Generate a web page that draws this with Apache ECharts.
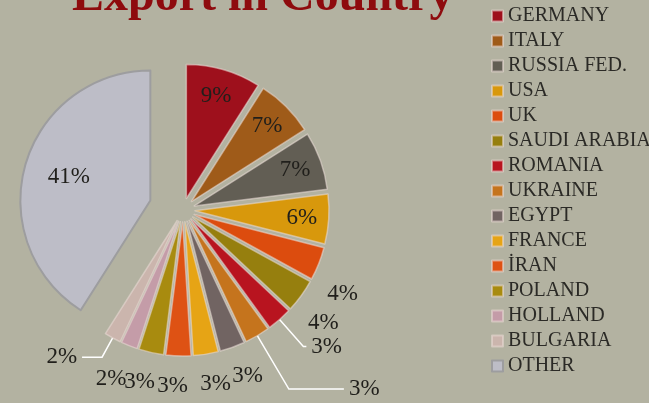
<!DOCTYPE html>
<html>
<head>
<meta charset="utf-8">
<script src="https://cdn.jsdelivr.net/npm/echarts@6/dist/echarts.min.js"></script>
<style>
  html, body { margin: 0; padding: 0; background: #b3b2a1; }
  #chart { width: 649px; height: 403px; }
</style>
</head>
<body>
<div id="chart"></div>
<script>
// country shares (%)
const countries = ['GERMANY', 'ITALY', 'RUSSIA FED.', 'USA', 'UK', 'SAUDI ARABIA', 'ROMANIA',
  'UKRAINE', 'EGYPT', 'FRANCE', 'İRAN', 'POLAND', 'HOLLAND', 'BULGARIA'];
const shares = [9, 7, 7, 6, 4, 4, 3, 3, 3, 3, 3, 3, 2, 2];
const otherName = 'OTHER';
const otherShare = 41;

const colors = ['#9e101c', '#9f5b19', '#625e54', '#d8980c', '#dc4c0e', '#967f0e', '#b8141f',
  '#c5741d', '#716462', '#e6a415', '#de5214', '#a88b0f', '#c49ca8', '#cbb5ad'];
const otherColor = '#bdbdc7';

// which labels sit inside the slices, label lines and small nudges for the outer ones
const insideLabels = ['GERMANY', 'ITALY', 'RUSSIA FED.', 'USA', 'OTHER'];
const guideLines = {
  'ROMANIA': [36, 3],
  'UKRAINE': [62, 55],
  'BULGARIA': [22, 20]
};
const labelNudges = {
  'UK': [-9, 19],
  'SAUDI ARABIA': [-7, 10]
};

const CENTER = [183, 210];
const hidden = { color: 'transparent', borderWidth: 0 };
const labelFont = { fontFamily: 'Liberation Serif', fontSize: 23, color: '#201f1b' };

let myChart = echarts.init(document.getElementById('chart'));

// slices of the countries
let mainData = countries.map(function (name, i) {
  let inside = insideLabels.indexOf(name) >= 0;
  let line = guideLines[name];
  return {
    name: name,
    value: shares[i],
    selected: true,
    itemStyle: { color: colors[i] },
    label: { show: !inside },
    labelLine: line
      ? { show: true, length: line[0], length2: line[1] }
      : { show: false, length: name === 'HOLLAND' ? 36 : 30, length2: 0 }
  };
});
mainData.push({
  name: 'other-gap',
  value: otherShare,
  itemStyle: hidden,
  label: { show: false },
  labelLine: { show: false },
  emphasis: { disabled: true }
});

// the big "other" slice, pulled out further
let restTotal = shares.reduce(function (a, b) { return a + b; }, 0);
let otherData = [
  { name: 'rest', value: restTotal, itemStyle: hidden, emphasis: { disabled: true } },
  {
    name: otherName,
    value: otherShare,
    selected: true,
    itemStyle: { color: otherColor, borderColor: '#9d9d9f', borderWidth: 2 }
  }
];

// transparent ring that carries the inner labels
let labelData = countries.concat([otherName]).map(function (name, i) {
  return {
    name: name,
    value: i < shares.length ? shares[i] : otherShare,
    label: { show: insideLabels.indexOf(name) >= 0 }
  };
});

myChart.setOption({
  backgroundColor: '#b3b2a1',
  animation: false,
  graphic: [
    {
      type: 'text',
      left: 72,
      top: -26,
      style: {
        text: 'Export in Country',
        font: 'bold 48px "Liberation Serif"',
        fill: '#8e0b0e'
      }
    }
  ],
  legend: {
    orient: 'vertical',
    left: 491,
    top: 6,
    padding: 0,
    icon: 'rect',
    itemWidth: 11,
    itemHeight: 11,
    itemGap: 5,
    data: countries.concat([otherName]),
    textStyle: { fontFamily: 'Liberation Serif', fontSize: 20, color: '#2b2a26' }
  },
  series: [
    {
      type: 'pie',
      z: 2,
      center: CENTER,
      radius: [0, 134],
      startAngle: 90,
      selectedMode: 'multiple',
      selectedOffset: 12,
      avoidLabelOverlap: false,
      itemStyle: { borderColor: 'rgba(235,220,215,0.55)', borderWidth: 1.5 },
      label: Object.assign({ position: 'outside', formatter: '{c}%' }, labelFont),
      labelLine: { lineStyle: { color: '#ffffff', width: 1.5 } },
      labelLayout: function (params) {
        let name = mainData[params.dataIndex].name;
        let nudge = labelNudges[name] || [0, 0];
        let layout = { hideOverlap: false, dx: nudge[0], dy: nudge[1] };
        if (!guideLines[name]) {
          layout.align = 'center';
        }
        return layout;
      },
      data: mainData
    },
    {
      type: 'pie',
      z: 1,
      center: CENTER,
      radius: [0, 130],
      startAngle: 90,
      selectedMode: 'multiple',
      selectedOffset: 34,
      label: { show: false },
      labelLine: { show: false },
      data: otherData
    },
    {
      type: 'pie',
      z: 3,
      silent: true,
      center: CENTER,
      radius: [98, 134],
      startAngle: 90,
      itemStyle: hidden,
      label: Object.assign({ position: 'inside', formatter: '{c}%' }, labelFont),
      labelLine: { show: false },
      data: labelData
    }
  ]
});
</script>
</body>
</html>
